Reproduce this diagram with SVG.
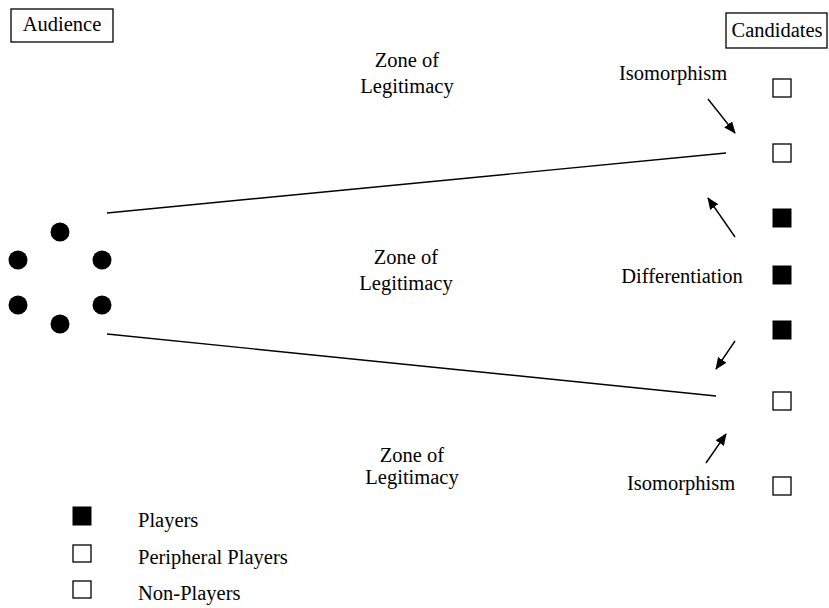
<svg xmlns="http://www.w3.org/2000/svg" width="829" height="608" viewBox="0 0 829 608">
<style>
text{font-family:"Liberation Serif","Times New Roman",serif;font-size:20.5px;fill:#000}
.box{fill:#fff;stroke:#000;stroke-width:1.3}
.open{fill:#fff;stroke:#000;stroke-width:1.3}
.full{fill:#000;stroke:#000;stroke-width:1}
.ln{stroke:#000;stroke-width:1.4;fill:none}
.mid{text-anchor:middle}
</style>
<defs>
<marker id="ah" viewBox="0 0 12 10" refX="11" refY="5" markerWidth="12" markerHeight="10" markerUnits="userSpaceOnUse" orient="auto">
<path d="M0,0 L12,5 L0,10 z" fill="#000"/>
</marker>
</defs>
<rect width="829" height="608" fill="#fff"/>
<g id="audience">
<rect class="box" x="11" y="9" width="102" height="33"/>
<text x="62" y="31" class="mid">Audience</text>
</g>
<g id="candidates">
<rect class="box" x="726" y="13" width="101" height="35"/>
<text x="777" y="37" class="mid">Candidates</text>
</g>
<g id="audience-members">
<circle cx="60" cy="232" r="9.5"/>
<circle cx="18" cy="260" r="9.5"/>
<circle cx="102" cy="260" r="9.5"/>
<circle cx="18" cy="305" r="9.5"/>
<circle cx="102" cy="305" r="9.5"/>
<circle cx="60" cy="324" r="9.5"/>
</g>
<g id="candidate-squares">
<rect class="open" x="773" y="79" width="18" height="18"/>
<rect class="open" x="773" y="144" width="18" height="18"/>
<rect class="full" x="773" y="209" width="18" height="18"/>
<rect class="full" x="773" y="266" width="18" height="18"/>
<rect class="full" x="773" y="321" width="18" height="18"/>
<rect class="open" x="773" y="392" width="18" height="18"/>
<rect class="open" x="773" y="477" width="18" height="18"/>
</g>
<g id="connectors">
<line class="ln" x1="107" y1="213" x2="726" y2="153"/>
<line class="ln" x1="107" y1="334" x2="716" y2="396"/>
<line class="ln" x1="708" y1="99" x2="735" y2="133" marker-end="url(#ah)"/>
<line class="ln" x1="735" y1="237" x2="708" y2="198" marker-end="url(#ah)"/>
<line class="ln" x1="735" y1="341" x2="716" y2="369" marker-end="url(#ah)"/>
<line class="ln" x1="706" y1="463" x2="726" y2="434" marker-end="url(#ah)"/>
</g>
<g id="zone-top">
<text x="407" y="67" class="mid">Zone of</text>
<text x="407" y="93" class="mid">Legitimacy</text>
</g>
<g id="zone-middle">
<text x="406" y="264" class="mid">Zone of</text>
<text x="406" y="290" class="mid">Legitimacy</text>
</g>
<g id="zone-bottom">
<text x="412" y="462" class="mid">Zone of</text>
<text x="412" y="484" class="mid">Legitimacy</text>
</g>
<g id="labels">
<text x="673" y="80" class="mid">Isomorphism</text>
<text x="682" y="283" class="mid">Differentiation</text>
<text x="681" y="490" class="mid">Isomorphism</text>
</g>
<g id="legend">
<rect class="full" x="73" y="507" width="18" height="18"/>
<text x="138" y="527">Players</text>
<rect class="open" x="73" y="545" width="18" height="17"/>
<text x="138" y="564">Peripheral Players</text>
<rect class="open" x="73" y="581" width="18" height="17"/>
<text x="138" y="600">Non-Players</text>
</g>
</svg>
